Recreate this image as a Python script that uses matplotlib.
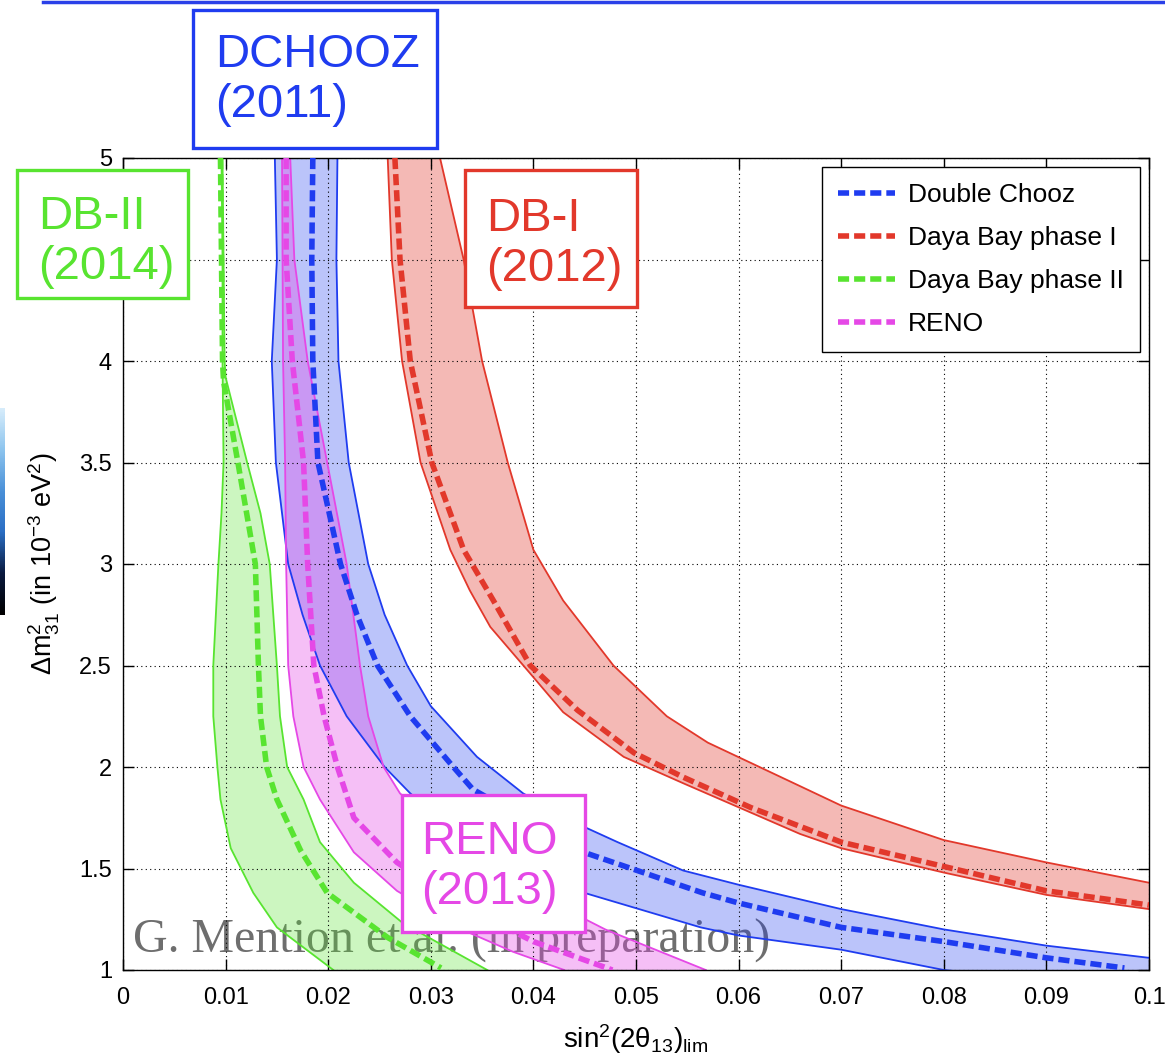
import numpy as np
import matplotlib.pyplot as plt
from matplotlib.lines import Line2D
from matplotlib.patches import Rectangle
from matplotlib.colors import LinearSegmentedColormap

plt.rcParams['font.family'] = ['Liberation Sans', 'DejaVu Sans']
plt.rcParams['mathtext.fontset'] = 'custom'
plt.rcParams['mathtext.rm'] = 'Liberation Sans'
plt.rcParams['mathtext.it'] = 'Liberation Sans:italic'
plt.rcParams['mathtext.default'] = 'regular'

# --- data: sin^2(2theta13) limit vs dm^2_31 ---
# Double Chooz
dc_lo_x = [0.0148, 0.0150, 0.0145, 0.0149, 0.0161, 0.0175, 0.0192, 0.0218, 0.0255, 0.0280, 0.0350, 0.0443, 0.0563, 0.0600, 0.0700, 0.0800, 0.1000]
dc_lo_y = [5.00, 4.50, 4.00, 3.50, 3.00, 2.75, 2.50, 2.25, 2.00, 1.87, 1.58, 1.39, 1.21, 1.17, 1.10, 1.00, 0.90]
dc_mid_x = [0.0185, 0.0184, 0.0185, 0.0190, 0.0212, 0.0228, 0.0248, 0.0280, 0.0322, 0.0341, 0.0449, 0.0565, 0.0600, 0.0700, 0.0800, 0.0900, 0.0976]
dc_mid_y = [5.00, 4.50, 4.00, 3.50, 3.00, 2.75, 2.50, 2.25, 2.00, 1.89, 1.58, 1.38, 1.33, 1.21, 1.14, 1.06, 1.01]
dc_hi_x = [0.0209, 0.0208, 0.0210, 0.0220, 0.0239, 0.0255, 0.0277, 0.0300, 0.0345, 0.0390, 0.0443, 0.0482, 0.0546, 0.0600, 0.0700, 0.0800, 0.0900, 0.1000]
dc_hi_y = [5.00, 4.50, 4.00, 3.50, 3.00, 2.75, 2.50, 2.30, 2.05, 1.87, 1.72, 1.63, 1.49, 1.42, 1.30, 1.20, 1.12, 1.06]

# Daya Bay phase I
db1_lo_x = [0.0258, 0.0262, 0.0272, 0.0290, 0.0319, 0.0338, 0.0358, 0.0397, 0.0429, 0.0488, 0.0546, 0.0660, 0.0700, 0.0800, 0.0900, 0.1000]
db1_lo_y = [5.00, 4.50, 4.00, 3.50, 3.07, 2.87, 2.69, 2.46, 2.27, 2.05, 1.92, 1.67, 1.60, 1.48, 1.37, 1.30]
db1_mid_x = [0.0265, 0.0270, 0.0280, 0.0301, 0.0332, 0.0361, 0.0397, 0.0443, 0.0498, 0.0546, 0.0612, 0.0700, 0.0800, 0.0900, 0.1000]
db1_mid_y = [5.00, 4.50, 4.00, 3.50, 3.07, 2.82, 2.50, 2.28, 2.07, 1.95, 1.80, 1.63, 1.51, 1.39, 1.32]
db1_hi_x = [0.0309, 0.0332, 0.0350, 0.0375, 0.0400, 0.0429, 0.0478, 0.0530, 0.0570, 0.0612, 0.0700, 0.0800, 0.0900, 0.1000]
db1_hi_y = [5.00, 4.50, 4.00, 3.50, 3.07, 2.82, 2.50, 2.25, 2.12, 2.02, 1.81, 1.64, 1.53, 1.43]

# Daya Bay phase II
db2_lo_x = [0.0096, 0.0097, 0.0097, 0.0098, 0.0096, 0.0093, 0.0088, 0.0088, 0.0092, 0.0095, 0.0105, 0.0127, 0.0150, 0.0205]
db2_lo_y = [5.00, 4.50, 4.00, 3.50, 3.25, 3.00, 2.50, 2.25, 2.00, 1.84, 1.60, 1.38, 1.21, 1.00]
db2_mid_x = [0.0095, 0.0096, 0.0097, 0.0098, 0.0112, 0.0129, 0.0132, 0.0134, 0.0140, 0.0150, 0.0173, 0.0199, 0.0258, 0.0310]
db2_mid_y = [5.00, 4.50, 4.00, 3.90, 3.50, 3.00, 2.50, 2.25, 2.00, 1.84, 1.59, 1.38, 1.16, 1.01]
db2_hi_x = [0.0097, 0.0098, 0.0099, 0.0100, 0.0121, 0.0134, 0.0143, 0.0150, 0.0153, 0.0160, 0.0176, 0.0192, 0.0225, 0.0273, 0.0355]
db2_hi_y = [5.00, 4.50, 4.00, 3.92, 3.50, 3.25, 3.00, 2.50, 2.25, 2.00, 1.84, 1.63, 1.43, 1.23, 1.00]

# RENO
reno_lo_x = [0.0155, 0.0156, 0.0158, 0.0159, 0.0161, 0.0166, 0.0176, 0.0192, 0.0225, 0.0267, 0.0330, 0.0380, 0.0430]
reno_lo_y = [5.00, 4.00, 3.50, 3.00, 2.50, 2.25, 2.00, 1.84, 1.58, 1.39, 1.20, 1.09, 1.00]
reno_mid_x = [0.0159, 0.0159, 0.0165, 0.0176, 0.0180, 0.0186, 0.0196, 0.0209, 0.0225, 0.0267, 0.0330, 0.0400, 0.0477]
reno_mid_y = [5.00, 4.50, 4.00, 3.50, 3.00, 2.50, 2.25, 2.00, 1.75, 1.53, 1.32, 1.14, 1.00]
reno_hi_x = [0.0163, 0.0167, 0.0180, 0.0199, 0.0218, 0.0231, 0.0239, 0.0254, 0.0270, 0.0330, 0.0400, 0.0470, 0.0568]
reno_hi_y = [5.00, 4.50, 4.00, 3.50, 3.00, 2.50, 2.25, 2.00, 1.87, 1.60, 1.38, 1.20, 1.00]

x_ticks = [0, 0.01, 0.02, 0.03, 0.04, 0.05, 0.06, 0.07, 0.08, 0.09, 0.1]
x_ticklabels = ['0', '0.01', '0.02', '0.03', '0.04', '0.05', '0.06', '0.07', '0.08', '0.09', '0.1']
y_ticks = [1, 1.5, 2, 2.5, 3, 3.5, 4, 4.5, 5]
y_ticklabels = ['1', '1.5', '2', '2.5', '3', '3.5', '4', '4.5', '5']

BLUE = '#1f3cf0'
RED = '#e2382b'
GREEN = '#58e430'
MAGENTA = '#e548e6'

W, H = 1165, 1061
fig = plt.figure(figsize=(W / 100, H / 100), dpi=100)
ax = fig.add_axes([123 / W, 1 - 970 / H, (1149 - 123) / W, (970 - 158) / H])


def draw_band(lo_x, lo_y, mid_x, mid_y, hi_x, hi_y, color, label, alpha):
    px = np.concatenate([lo_x, hi_x[::-1]])
    py = np.concatenate([lo_y, hi_y[::-1]])
    ax.fill(px, py, color=color, alpha=alpha, lw=0, zorder=1)
    ax.plot(lo_x, lo_y, color=color, lw=1.3, zorder=2)
    ax.plot(hi_x, hi_y, color=color, lw=1.3, zorder=2)
    ax.plot(mid_x, mid_y, color=color, lw=4, ls=(0, (2.0, 0.9)), label=label, zorder=3)


draw_band(dc_lo_x, dc_lo_y, dc_mid_x, dc_mid_y, dc_hi_x, dc_hi_y, BLUE, 'Double Chooz', 0.3)
draw_band(db1_lo_x, db1_lo_y, db1_mid_x, db1_mid_y, db1_hi_x, db1_hi_y, RED, 'Daya Bay phase I', 0.35)
draw_band(db2_lo_x, db2_lo_y, db2_mid_x, db2_mid_y, db2_hi_x, db2_hi_y, GREEN, 'Daya Bay phase II', 0.3)
draw_band(reno_lo_x, reno_lo_y, reno_mid_x, reno_mid_y, reno_hi_x, reno_hi_y, MAGENTA, 'RENO', 0.35)

ax.set_xlim(0, 0.1)
ax.set_ylim(1, 5)
ax.set_xticks(x_ticks)
ax.set_xticklabels(x_ticklabels)
ax.set_yticks(y_ticks)
ax.set_yticklabels(y_ticklabels)
ax.tick_params(direction='in', length=8, width=1, top=True, right=True, labelsize=17)
ax.tick_params(axis='x', pad=12)
ax.tick_params(axis='y', pad=8)
ax.grid(True, ls=(0, (1, 3)), color='k', lw=0.8)
for s in ax.spines.values():
    s.set_linewidth(1.0)

ax.set_xlabel(r'$\mathrm{sin}^2(2θ_{13})_{\mathrm{lim}}$', fontsize=20, labelpad=10)
ax.set_ylabel(r'$Δ\mathrm{m}^2_{31}$ (in 10$^{-3}$ eV$^2$)', fontsize=19.5, labelpad=12)

leg = ax.legend(loc='upper right', fontsize=19, fancybox=False, framealpha=1,
                edgecolor='k', handlelength=2.15, labelspacing=0.72,
                borderaxespad=0.35, handletextpad=0.5, borderpad=0.6)
leg.get_frame().set_linewidth(1.0)

# watermark text (under the bands)
ax.text(133 / W, 1 - 952 / H, 'G. Mention et al. (in preparation)', transform=fig.transFigure,
        family='Liberation Serif', fontsize=34.5, color='#6e6e6e', va='baseline', ha='left', zorder=0.5)


def label_box(x0, y0, x1, y1, tx, ty, text, color):
    fig.add_artist(Rectangle((x0 / W, 1 - y1 / H), (x1 - x0) / W, (y1 - y0) / H,
                             transform=fig.transFigure, facecolor='white',
                             edgecolor=color, lw=2.4, zorder=5))
    fig.text(tx / W, 1 - ty / H, text, color=color, fontsize=34,
             ha='left', va='center', linespacing=1.2, zorder=6)


label_box(193, 10, 437, 148, 215, 80, 'DCHOOZ\n(2011)', BLUE)
label_box(17, 170, 188, 298, 38, 242, 'DB-II\n(2014)', GREEN)
label_box(465, 170, 637, 307, 486, 244, 'DB-I\n(2012)', RED)
label_box(402, 795, 585, 932, 421, 867, 'RENO\n(2013)', MAGENTA)

# slide decorations: top rule and left-edge strip
fig.add_artist(Line2D([43 / W, 1], [1 - 1.5 / H, 1 - 1.5 / H], transform=fig.transFigure,
                      color='#2a40e8', lw=2.5))
strip = fig.add_axes([0, 1 - 615 / H, 5 / W, (615 - 408) / H])
cmap = LinearSegmentedColormap.from_list('s', ['#d6ecfb', '#8cc4ee', '#4a90d8', '#2a6ec4', '#0a1a40', '#000000'])
strip.imshow(np.linspace(0, 1, 100)[:, None], aspect='auto', cmap=cmap)
strip.axis('off')

fig.savefig('out.png', dpi=100)
